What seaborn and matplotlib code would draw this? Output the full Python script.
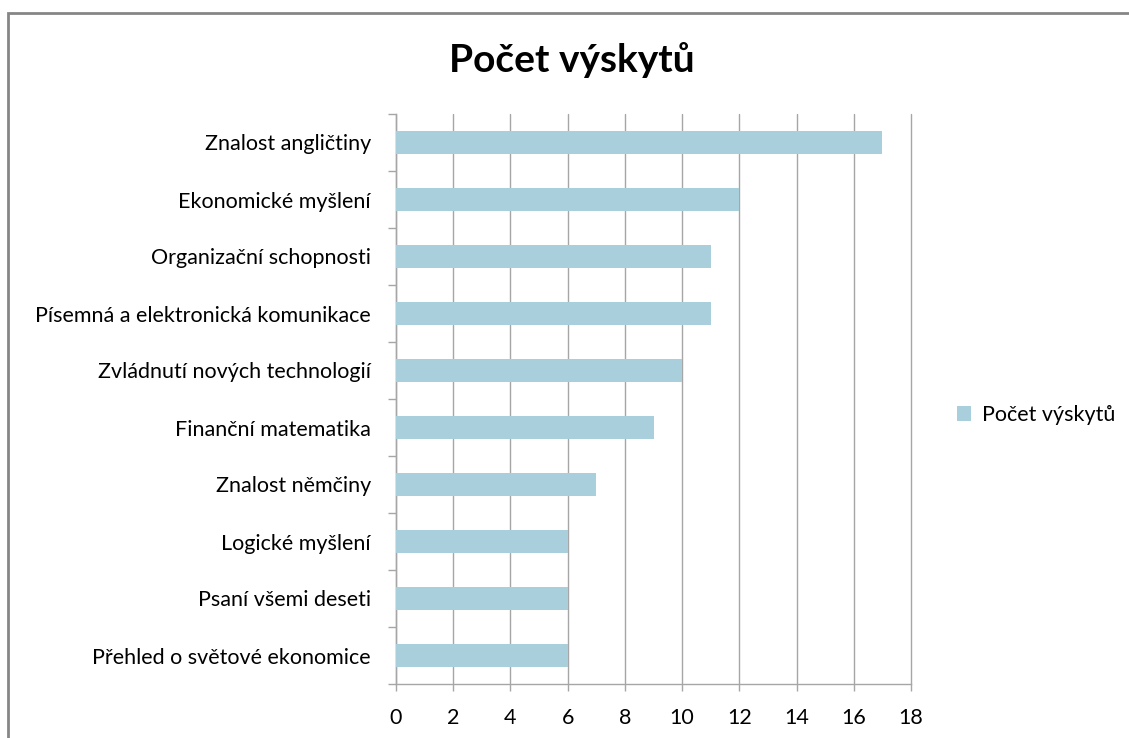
import numpy as np
import pandas as pd
import matplotlib
matplotlib.use("Agg")
import matplotlib.pyplot as plt
from matplotlib.patches import Rectangle, Patch
import seaborn as sns

# Data
categories = [
    "Znalost angličtiny",
    "Ekonomické myšlení",
    "Organizační schopnosti",
    "Písemná a elektronická komunikace",
    "Zvládnutí nových technologií",
    "Finanční matematika",
    "Znalost němčiny",
    "Logické myšlení",
    "Psaní všemi deseti",
    "Přehled o světové ekonomice",
]
counts = [17, 12, 11, 11, 10, 9, 7, 6, 6, 6]
series_name = "Počet výskytů"
x_ticks = list(range(0, 19, 2))

BAR = "#A9CEDC"
GRID = "#A6A6A6"
FS = 15.5

sns.set_theme(style="white")
plt.rcParams["font.family"] = ["Lato", "DejaVu Sans"]
plt.rcParams["text.color"] = "black"
plt.rcParams["xtick.color"] = "black"
plt.rcParams["ytick.color"] = "black"

df = pd.DataFrame({"skill": categories, "count": counts})

fig = plt.figure(figsize=(11.29, 7.38), dpi=100)
ax = fig.add_axes([396 / 1129, 1 - 684 / 738, (911 - 396) / 1129, (684 - 114) / 738])

sns.barplot(data=df, x="count", y="skill", color=BAR, saturation=1,
            width=0.42, linewidth=0, ax=ax, zorder=3)

ax.set_xlim(0, 18)
ax.set_ylim(len(categories) - 0.5, -0.5)
ax.set_xticks(x_ticks)
ax.set_xticklabels([str(t) for t in x_ticks], fontsize=FS)
ax.tick_params(axis="x", bottom=True, length=5, width=1, color=GRID, pad=12,
               direction="out")
ax.xaxis.grid(True, color=GRID, linewidth=1, zorder=0)
for gl in ax.get_xgridlines():
    gl.set_clip_on(False)
ax.yaxis.grid(False)

# category ticks sit on the boundaries between rows
ax.set_yticks(np.arange(len(categories)))
ax.set_yticklabels(categories, fontsize=FS)
ax.tick_params(axis="y", which="major", left=True, length=0, pad=18)
ax.set_yticks(np.arange(len(categories) + 1) - 0.5, minor=True)
ax.tick_params(axis="y", which="minor", left=True, length=6, width=1,
               color=GRID, direction="out")
ax.set_xlabel("")
ax.set_ylabel("")

for side in ["top", "right"]:
    ax.spines[side].set_visible(False)
for side in ["left", "bottom"]:
    ax.spines[side].set_color(GRID)
    ax.spines[side].set_linewidth(1)

fig.text(572 / 1129, 1 - 60 / 738, series_name, ha="center", va="center",
         fontsize=28, fontweight="bold", color="black")

handle = Patch(facecolor=BAR, edgecolor="none", label=series_name)
fig.legend(handles=[handle], loc="center left",
           bbox_to_anchor=(938 / 1129, 1 - 415 / 738), frameon=False,
           fontsize=FS, handlelength=0.65, handleheight=0.65, handletextpad=0.5)

# outer chart-area border (partly clipped by the image edge)
fig.patches.append(Rectangle((8 / 1129, -0.1), 1.2, 1 - 13 / 738 + 0.1,
                             transform=fig.transFigure, fill=False,
                             edgecolor="#868686", linewidth=2))

fig.savefig("out.png", dpi=100)
